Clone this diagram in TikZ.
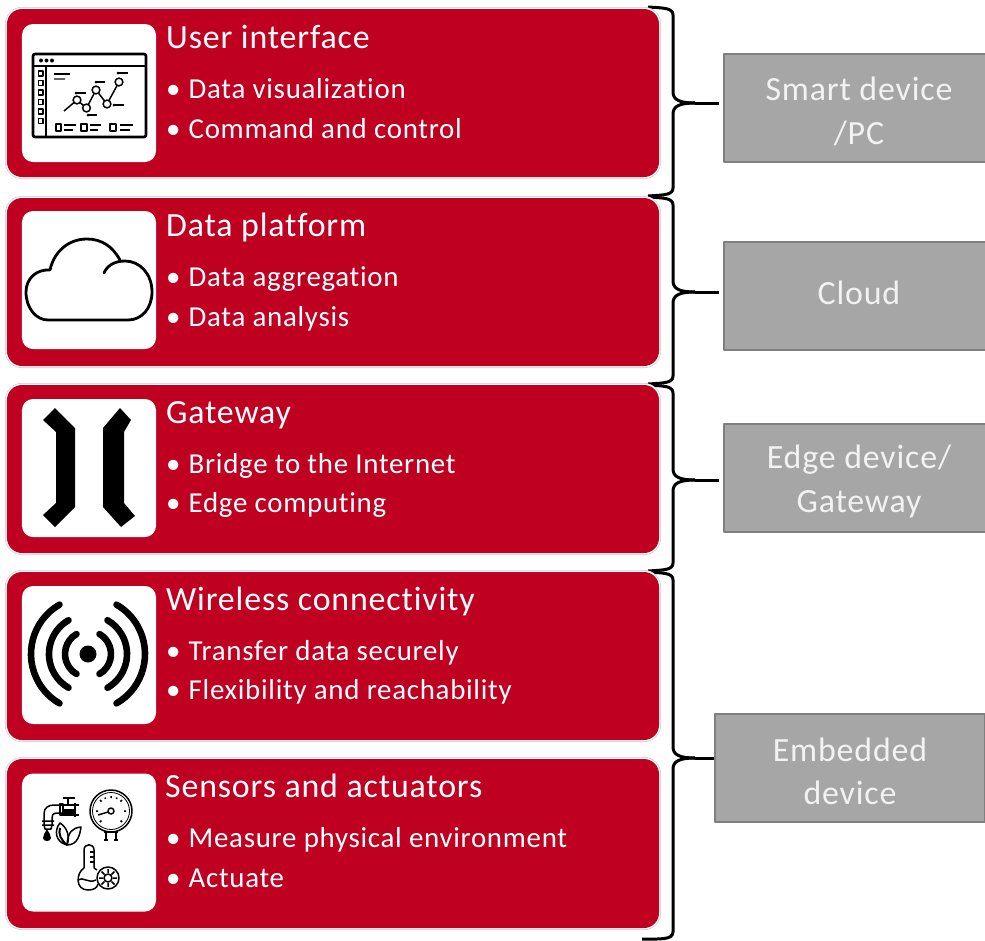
\documentclass[tikz,border=0pt]{standalone}
\usepackage{fontspec}
\setmainfont{Carlito}[Ligatures=NoCommon,LetterSpace=2.5]
\usetikzlibrary{shapes.geometric}
\definecolor{cardred}{HTML}{C00021}
\definecolor{cardedge}{HTML}{C8C8C8}
\definecolor{tierfill}{HTML}{A6A6A6}
\definecolor{tieredge}{HTML}{7F7F7F}
\definecolor{tiertext}{HTML}{F2F2F2}
\newcommand{\itemdot}{\makebox[22.5bp][l]{•}}
\tikzset{
  cardbox/.style={rectangle,rounded corners=15bp,fill=cardred,inner sep=0pt,minimum width=652bp,
    preaction={draw=cardedge,line width=4bp},preaction={draw=white,line width=2.8bp}},
  iconbox/.style={rectangle,rounded corners=11bp,fill=white,inner sep=0pt,minimum width=134bp,minimum height=138bp},
  tierbox/.style={rectangle,fill=tierfill,draw=tieredge,line width=2.2bp,inner sep=0pt,minimum width=270bp,minimum height=108bp,
    align=center,text=tiertext,font=\fontsize{34}{43.5}\selectfont},
  cardtitle/.style={anchor=base west,inner sep=0pt,text=white,font=\fontsize{34}{40}\selectfont},
  carditem/.style={anchor=base west,inner sep=0pt,text=white,font=\fontsize{29}{34}\selectfont},
  bracket/.style={draw=black,line width=3bp},
  iconline/.style={draw=black,line width=1.5bp,line join=round},
  iconthick/.style={draw=black,line width=2.6bp,line join=round},
  wave/.style={draw=black,line width=6.6bp,line cap=round},
}
\begin{document}
\begin{tikzpicture}[x=1bp,y=-1bp,>=latex,line join=bevel]
\useasboundingbox (0,0) rectangle (985,941);
  % Node: tiers
  \node[tierbox] (smart) at (859,108) {\strut Smart device\\/PC};
  \node[tierbox] (cloud) at (859,296) {\strut Cloud};
  \node[tierbox] (edge) at (859,478) {\strut Edge device/\\Gateway};
  \node[tierbox] (embedded) at (850,768) {\strut Embedded\\device};
  % Edge: brace -- smart
  \coordinate (smarttop) at (648,7);
  \coordinate (smarttip) at (695,103);
  \coordinate (smartend) at (648,196);
  \draw[bracket] (smarttop) .. controls (664,8) and (673,8) .. (673,15) -- (673,92) .. controls (673,100) and (680,103) .. (smarttip);
  \draw[bracket] (smartend) .. controls (664,195) and (673,195) .. (673,188) -- (673,114) .. controls (673,106) and (680,103) .. (smarttip);
  \draw[bracket] (smarttip) -- (719,103);
  % Edge: brace -- cloud
  \coordinate (cloudtop) at (648,197);
  \coordinate (cloudtip) at (695,292);
  \coordinate (cloudend) at (648,384);
  \draw[bracket] (cloudtop) .. controls (664,198) and (673,198) .. (673,205) -- (673,281) .. controls (673,289) and (680,292) .. (cloudtip);
  \draw[bracket] (cloudend) .. controls (664,383) and (673,383) .. (673,376) -- (673,303) .. controls (673,295) and (680,292) .. (cloudtip);
  \draw[bracket] (cloudtip) -- (719,292);
  % Edge: brace -- edge
  \coordinate (edgetop) at (648,385);
  \coordinate (edgetip) at (695,480);
  \coordinate (edgeend) at (648,571);
  \draw[bracket] (edgetop) .. controls (664,386) and (673,386) .. (673,393) -- (673,469) .. controls (673,477) and (680,480) .. (edgetip);
  \draw[bracket] (edgeend) .. controls (664,570) and (673,570) .. (673,563) -- (673,491) .. controls (673,483) and (680,480) .. (edgetip);
  \draw[bracket] (edgetip) -- (719,480);
  % Edge: brace -- embedded
  \coordinate (embeddedtop) at (648,572);
  \coordinate (embeddedtip) at (695,758);
  \coordinate (embeddedend) at (642,939);
  \draw[bracket] (embeddedtop) .. controls (664,573) and (673,573) .. (673,580) -- (673,747) .. controls (673,755) and (680,758) .. (embeddedtip);
  \draw[bracket] (embeddedend) .. controls (660,939) and (673,940) .. (673,932) -- (673,769) .. controls (673,761) and (680,758) .. (embeddedtip);
  \draw[bracket] (embeddedtip) -- (embedded.west |- embeddedtip);
  % Node: cards
  \node[cardbox,minimum height=168bp] (ui) at (333,93) {};
  \node[cardbox,minimum height=168bp] (platform) at (333,282) {};
  \node[cardbox,minimum height=168bp] (gateway) at (333,469) {};
  \node[cardbox,minimum height=168bp] (wireless) at (333,656) {};
  \node[cardbox,minimum height=169bp] (sensors) at (333,843.5) {};
  % Node: ui
  \node[iconbox] (uiicon) at (89,93) {};
  \node[cardtitle] (uititle) at (166,48) {User interface};
  \node[carditem] (uifirst) at (166,98) {\itemdot Data visualization};
  \node[carditem] (uisecond) at (166,138) {\itemdot Command and control};
  % Node: platform
  \node[iconbox] (platformicon) at (89,280) {};
  \node[cardtitle] (platformtitle) at (166,236) {Data platform};
  \node[carditem] (platformfirst) at (166,286) {\itemdot Data aggregation};
  \node[carditem] (platformsecond) at (166,326) {\itemdot Data analysis};
  % Node: gateway
  \node[iconbox] (gatewayicon) at (89,468) {};
  \node[cardtitle] (gatewaytitle) at (166,423) {Gateway};
  \node[carditem] (gatewayfirst) at (166,473) {\itemdot Bridge to the Internet};
  \node[carditem] (gatewaysecond) at (166,512) {\itemdot Edge computing};
  % Node: wireless
  \node[iconbox] (wirelessicon) at (89,655) {};
  \node[cardtitle] (wirelesstitle) at (166,610) {Wireless connectivity};
  \node[carditem] (wirelessfirst) at (166,660) {\itemdot Transfer data securely};
  \node[carditem] (wirelesssecond) at (166,699) {\itemdot Flexibility and reachability};
  % Node: sensors
  \node[iconbox] (sensorsicon) at (89,842.5) {};
  \node[cardtitle] (sensorstitle) at (165,797) {Sensors and actuators};
  \node[carditem] (sensorsfirst) at (166,847) {\itemdot Measure physical environment};
  \node[carditem] (sensorssecond) at (166,887) {\itemdot Actuate};
  % Icon: window with chart
\begin{scope}
  \draw[iconthick,rounded corners=2bp] (33,54) rectangle (146,137);
  \draw[iconthick] (33,66) -- (146,66);
  \draw[iconthick] (46,66) -- (46,137);
  \fill (41,60.5) circle (2bp) (46.5,60.5) circle (2bp) (52,60.5) circle (2bp);
  \draw[iconline] (38.5,71) rectangle (43,76) (38.5,80.5) rectangle (43,85.5) (38.5,90) rectangle (43,95);
  \draw[iconline] (38.5,99.5) rectangle (43,104.5) (38.5,109) rectangle (43,114) (38.5,118.5) rectangle (43,123.5);
  \draw[iconthick,line width=2bp] (54,73.5) -- (70,73.5);
  \draw[iconline,draw=black!60] (54,79) -- (65,79);
  \draw[iconline] (64,111) -- (77,100) -- (86.5,108) -- (96,90) -- (107,104) -- (119,82);
  \draw[iconline,fill=white] (77,100) circle (3.9bp) (86.5,108) circle (3.9bp) (96,90) circle (3.9bp) (107,104) circle (3.9bp) (119,82) circle (3.9bp);
  \draw[iconline] (76,93) -- (86,93) (88,115) -- (97,115) (96,82) -- (105,82) (114,105) -- (124,105) (118,73) -- (128,73);
  \fill (76,93) circle (1.5bp) (88,115) circle (1.5bp) (96,82) circle (1.5bp) (114,105) circle (1.5bp) (118,73) circle (1.5bp);
  \draw[iconline] (56,124) rectangle (61,131) (81,124) rectangle (87,131) (110,124) rectangle (116,131);
  \draw[iconline] (64,125) -- (76,125) (64,130) -- (73,130) (90,125) -- (101,125) (90,130) -- (98,130) (120,125) -- (133,125) (120,130) -- (130,130);
\end{scope}
  % Icon: cloud
\begin{scope}
  \draw[iconthick,line width=2.8bp,line cap=round] (104,273) .. controls (107,266) and (114,261) .. (125,261) .. controls (140,261) and (152,274) .. (152,292)
    .. controls (152,308) and (142,320) .. (128,320) -- (48,320) .. controls (36,320) and (26,308) .. (26,292)
    .. controls (26,279) and (36,269) .. (50,270) .. controls (54,252) and (68,239) .. (87,239) .. controls (102,239) and (113,247) .. (120,260);
\end{scope}
  % Icon: gateway
\begin{scope}
  \fill (55,408) -- (75,428) -- (75,507) -- (55,527) -- (43,515) -- (56,503) -- (56,432) -- (43,420) -- cycle;
  \fill (120,408) -- (131,420) -- (124,432) -- (124,503) -- (135,516) -- (121,527) -- (103,507) -- (103,428) -- cycle;
\end{scope}
  % Icon: wireless
\begin{scope}
  \node[circle,fill=black,inner sep=0pt,minimum size=17bp] (wirelessdot) at (88,654) {};
  \draw[wave] ([shift={(-60:23bp)}]wirelessdot.center) arc[start angle=-60,end angle=60,radius=23bp];
  \draw[wave] ([shift={(-60:39bp)}]wirelessdot.center) arc[start angle=-60,end angle=60,radius=39bp];
  \draw[wave] ([shift={(-60:57bp)}]wirelessdot.center) arc[start angle=-60,end angle=60,radius=57bp];
  \draw[wave] ([shift={(120:23bp)}]wirelessdot.center) arc[start angle=120,end angle=240,radius=23bp];
  \draw[wave] ([shift={(120:39bp)}]wirelessdot.center) arc[start angle=120,end angle=240,radius=39bp];
  \draw[wave] ([shift={(120:57bp)}]wirelessdot.center) arc[start angle=120,end angle=240,radius=57bp];
\end{scope}
  % Icon: sensors
\begin{scope}
  % gauge
  \draw[iconline] (111,811) circle (21bp);
  \draw[iconline,line width=.8bp] (111,811) circle (18.5bp);
  \draw[iconline] (111,811) circle (3bp);
  \draw[iconline] (108,812) -- (98,815);
  \draw[iconline,line width=1.5bp] (111,796) -- (111,798) (100,800) -- (101.5,801.5) (122,800) -- (120.5,801.5) (96,811) -- (98,811) (126,811) -- (124,811)
    (100,822) -- (101.5,820.5) (122,822) -- (120.5,820.5) (105,797.5) -- (105.5,799) (117,797.5) -- (116.5,799);
  \draw[iconline] (104,832) -- (118,832) (106,832) -- (106,840) (116,832) -- (116,840) (104,840) -- (108,840) (114,840) -- (118,840);
  % tap
  \draw[iconline] (44,825) -- (44,814) .. controls (44,808) and (48,805) .. (54,805) -- (62,805) (62,813) -- (56,813) .. controls (53,813) and (52,815) .. (52,818) -- (52,825);
  \draw[iconline] (42,821) -- (54,821) (42,825) -- (54,825) (44,825) -- (45,829) -- (51,829) -- (52,825);
  \draw[iconline] (60,804) rectangle (63,815);
  \fill (63,809) rectangle (75,816);
  \draw[iconline] (63,805) -- (75,805) (75,803) -- (75,817) (75,805) -- (79,805) (75,815) -- (79,815);
  \draw[iconline] (68,797) -- (68,805) (63,798) -- (75,798);
  % drop
  \fill (47,829) .. controls (45,833) and (43,835) .. (43,838) .. controls (43,842) and (51,842) .. (51,838) .. controls (51,835) and (49,833) .. (47,829) -- cycle;
  % leaves
  \draw[iconline] (60,823) .. controls (54,830) and (55,842) .. (67,845) .. controls (70,838) and (68,828) .. (60,823) -- cycle;
  \draw[iconline,line width=2bp] (60,828) .. controls (58,834) and (61,840) .. (67,845);
  \draw[iconline] (67,845) .. controls (78,845) and (80,834) .. (81,827) .. controls (72,828) and (68,832) .. (67,845) -- cycle;
  % thermometer
  \draw[iconline] (84,868) -- (84,850) .. controls (84,843) and (94,843) .. (94,850) -- (94,868);
  \draw[iconline] (84,868) .. controls (76,873) and (75,890) .. (88,890) .. controls (94,890) and (97,888) .. (98,884);
  \draw[iconline] (94,868) -- (97,870);
  \draw[iconline] (90,852) -- (94,852) (90,857) -- (94,857) (90,862) -- (94,862);
  \draw[iconline] (78,880) .. controls (83,876) and (88,884) .. (96,880);
  % gear
  \draw[iconline] (108,878) circle (11bp) (108,878) circle (4bp);
  \draw[iconline] (108,869) -- (108,873) (108,883) -- (108,887) (99,878) -- (103,878) (113,878) -- (117,878)
    (101.5,871.5) -- (104.5,874.5) (111.5,881.5) -- (114.5,884.5) (114.5,871.5) -- (111.5,874.5) (104.5,881.5) -- (101.5,884.5);
\end{scope}
\end{tikzpicture}
\end{document}
